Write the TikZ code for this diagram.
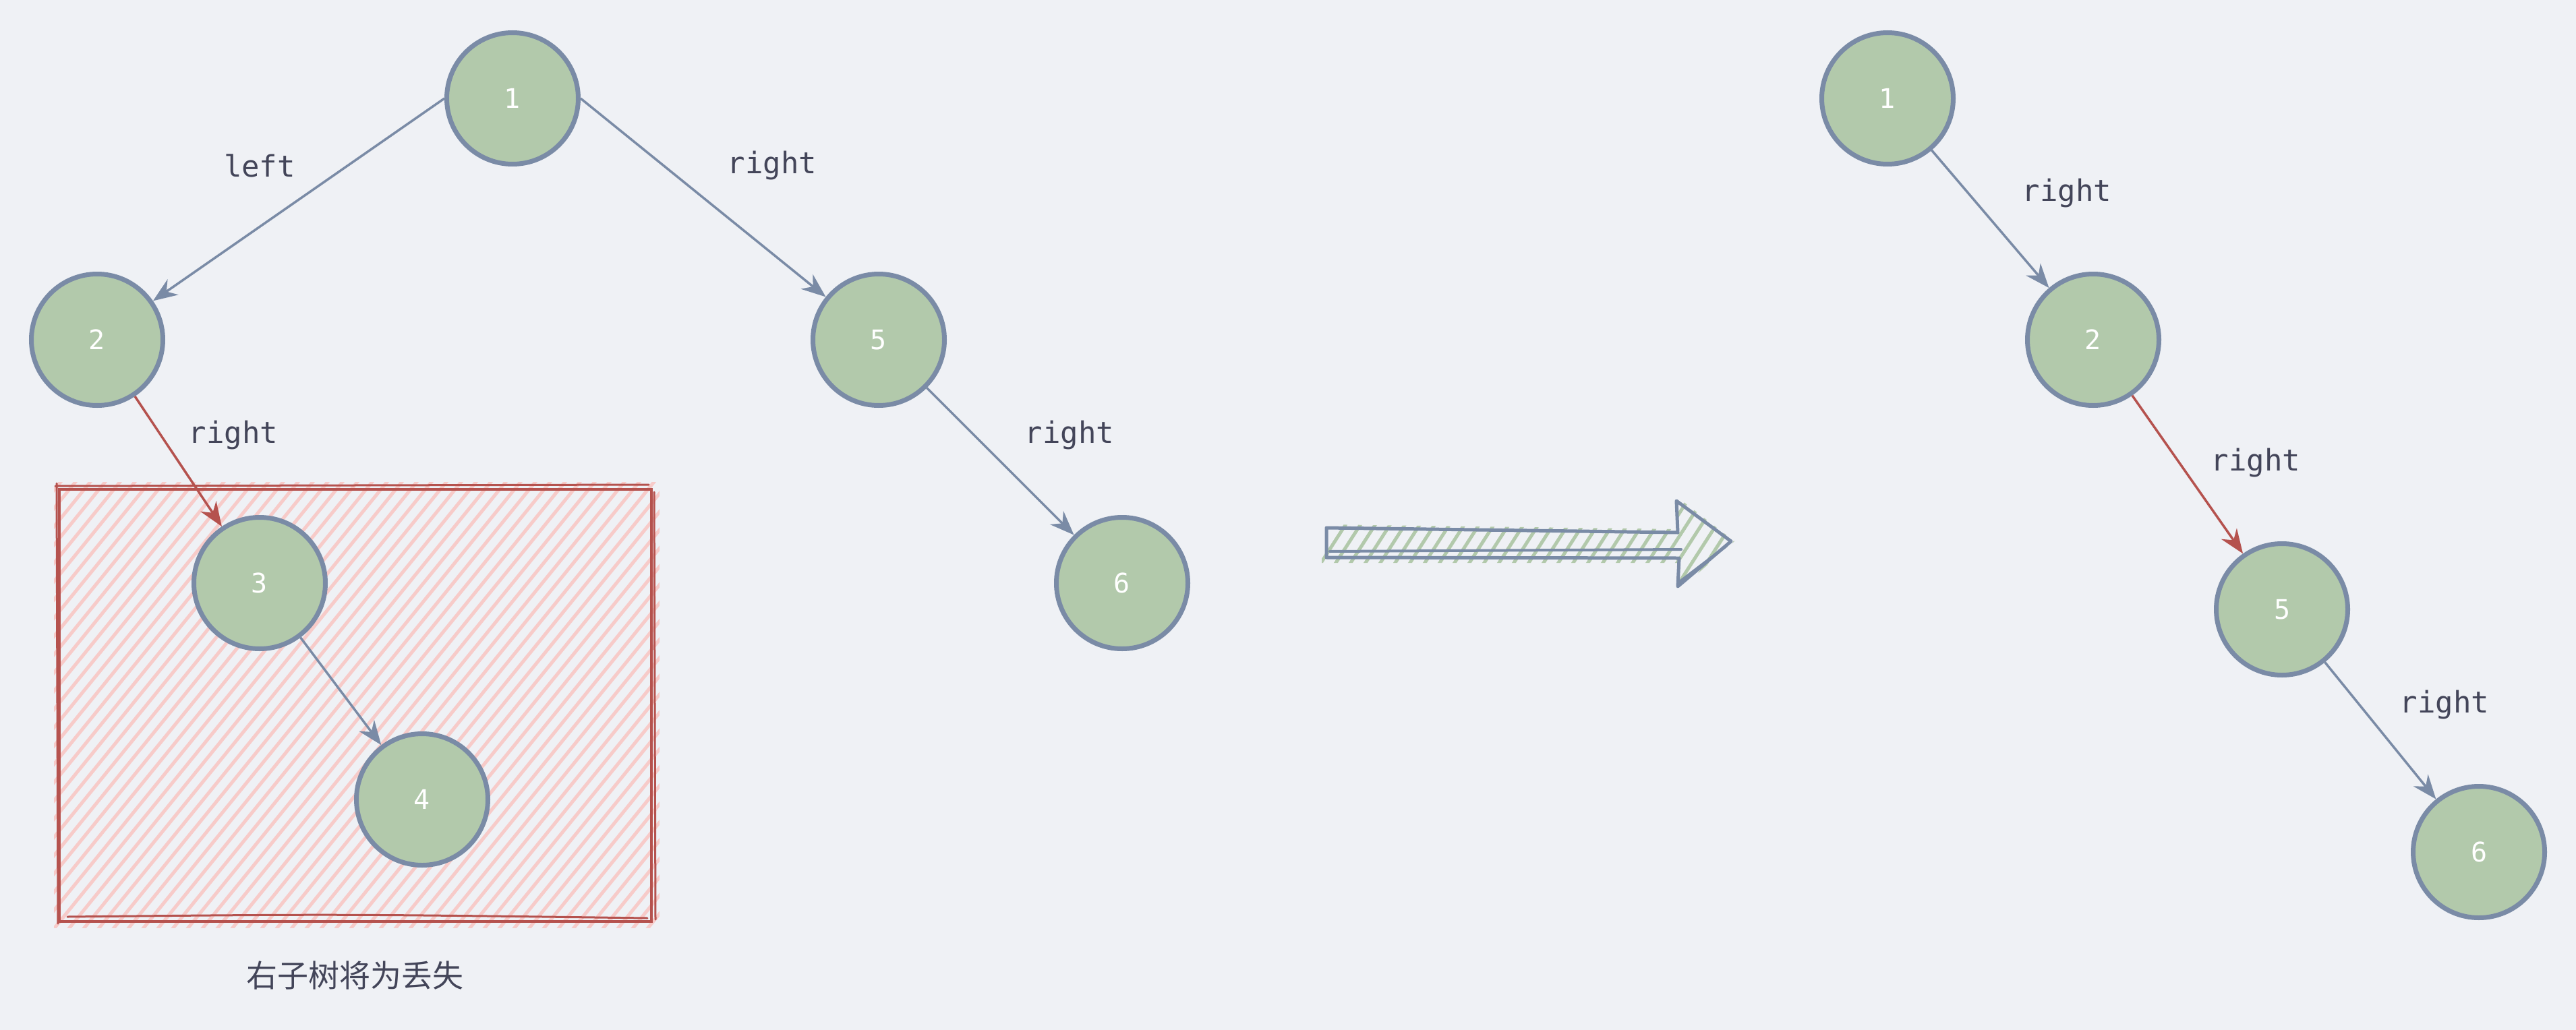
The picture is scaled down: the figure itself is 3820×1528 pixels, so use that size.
\documentclass[tikz,border=0pt]{standalone}
\usepackage{fontspec}
\setmonofont{DejaVu Sans Mono}
\newfontfamily\cjk{Noto Sans CJK SC}
\usetikzlibrary{arrows.meta}
\definecolor{bg}{HTML}{EFF1F5}
\definecolor{nodefill}{HTML}{B2C9AB}
\definecolor{nodedraw}{HTML}{7A8BA6}
\definecolor{txt}{HTML}{434559}
\definecolor{redc}{HTML}{B5524E}
\definecolor{pinkc}{HTML}{F7CBC9}
\definecolor{greenh}{HTML}{B2C9AB}
\begin{document}
\begin{tikzpicture}[x=1pt,y=-1pt,
  tnode/.style={circle, fill=nodefill, draw=nodedraw, line width=7pt, minimum size=195pt, inner sep=0pt, text=white, font=\ttfamily\fontsize{40}{44}\selectfont},
  tedge/.style={draw=nodedraw, line width=3.5pt, -{Stealth[length=36pt,width=28pt]}},
  redge/.style={tedge, draw=redc},
  lbl/.style={text=txt, font=\ttfamily\fontsize{44}{48}\selectfont},
  captext/.style={text=txt, font=\cjk\fontsize{46}{50}\selectfont}
]
\useasboundingbox (0,0) rectangle (3820,1528);
\fill[bg] (0,0) rectangle (3820,1528);

% red hatched box
\begin{scope}
  \clip (80,715) rectangle (978,1376);
  \foreach \i in {0,...,70} {
    \draw[pinkc, line width=5pt] (-480+\i*22, 1390) -- ++(560,-690);
  }
\end{scope}
\draw[redc, line width=4.5pt] (88,726) rectangle (966,1367);
\draw[redc, line width=3pt, line cap=round] (82,721) -- (962,719);
\draw[redc, line width=3pt, line cap=round] (84,717) -- (86,1370);
\draw[redc, line width=3pt, line cap=round] (970,730) -- (972,1364);
\draw[redc, line width=3pt, line cap=round] (100,1360) .. controls (500,1356) .. (960,1362);

% hatched hollow arrow
\begin{scope}
  \clip (1960,778) -- (2490,785) -- (2488,738) -- (2572,803) -- (2490,875) -- (2493,835) -- (1960,835) -- cycle;
  \foreach \i in {0,...,30} {
    \draw[greenh, line width=5pt, line cap=round] (1930+\i*22, 880) -- ++(90,-140);
  }
\end{scope}
\draw[nodedraw, line width=5pt, line join=round] (1967,783) -- (2488,790) -- (2486,743) -- (2567,803) -- (2488,870) -- (2490,828) -- (1967,827) -- cycle;
\draw[nodedraw, line width=4pt, line cap=round] (1972,818) -- (2493,815);
\draw[nodedraw, line width=4pt, line cap=round] (2492,862) -- (2560,810);

% left tree
\node[tnode] (l1) at (760,146) {1};
\node[tnode] (l2) at (144,504) {2};
\node[tnode] (l5) at (1303,504) {5};
\node[tnode] (l6) at (1664,865) {6};
\node[tnode] (l3) at (385,865) {3};
\node[tnode] (l4) at (626,1186) {4};

\draw[tedge] (l1.west) -- (l2);
\draw[tedge] (l1.east) -- (l5);
\draw[redge] (l2) -- (l3);
\draw[tedge] (l3) -- (l4);
\draw[tedge] (l5) -- (l6);

\node[lbl] (tl1) at (385,246) {left};
\node[lbl] (tl2) at (1145,246) {right};
\node[lbl] (tl3) at (346,646) {right};
\node[lbl] (tl4) at (1586,646) {right};
\node[captext] (capt) at (526,1447) {右子树将为丢失};

% right tree
\node[tnode] (r1) at (2799,146) {1};
\node[tnode] (r2) at (3104,504) {2};
\node[tnode] (r5) at (3384,904) {5};
\node[tnode] (r6) at (3676,1264) {6};

\draw[tedge] (r1) -- (r2);
\draw[redge] (r2) -- (r5);
\draw[tedge] (r5) -- (r6);

\node[lbl] (tr1) at (3065,287) {right};
\node[lbl] (tr2) at (3345,687) {right};
\node[lbl] (tr3) at (3625,1045) {right};
\end{tikzpicture}
\end{document}
